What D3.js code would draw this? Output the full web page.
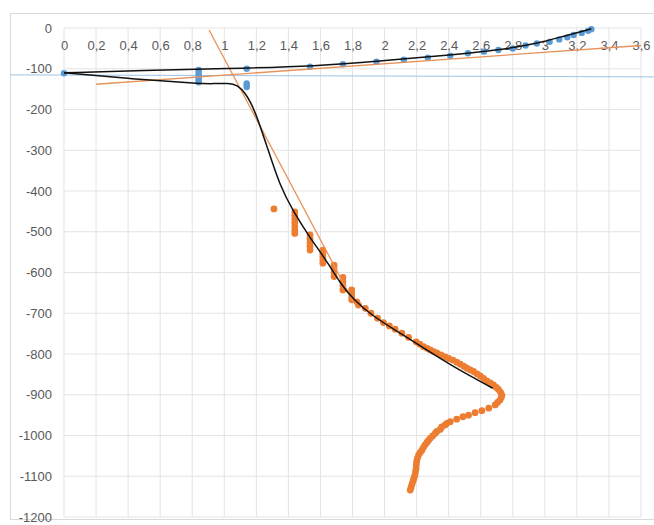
<!DOCTYPE html>
<html>
<head>
<meta charset="utf-8">
<script src="https://cdn.jsdelivr.net/npm/d3@7"></script>
<style>
  html, body { margin: 0; padding: 0; background: #fff; }
  svg { display: block; }
  text { font-family: "Liberation Sans", "Open Sans", sans-serif; }
</style>
</head>
<body>
<svg id="chart" width="654" height="525"></svg>
<script>
// ---------- data ----------
const xTicks = [0, 0.2, 0.4, 0.6, 0.8, 1, 1.2, 1.4, 1.6, 1.8, 2, 2.2, 2.4, 2.6, 2.8, 3, 3.2, 3.4, 3.6];
const yTicks = [0, -100, -200, -300, -400, -500, -600, -700, -800, -900, -1000, -1100, -1200];

const blueX = [0, 0.84, 0.84, 0.84, 0.84, 0.84, 0.84, 0.84, 1.14, 1.14, 1.14, 1.14,
  1.535, 1.74, 1.95, 2.12, 2.27, 2.41, 2.52, 2.62, 2.71, 2.80, 2.88, 2.95, 3.03, 3.09, 3.14, 3.18, 3.23, 3.27, 3.29];
const blueY = [-111, -103, -108, -113, -118, -123, -128, -133, -100, -136, -140, -145,
  -95, -89, -83, -78, -73, -68, -62, -58, -54, -50, -43, -38, -34, -28, -23, -17, -12, -7, -3];

const orangeX = [1.31,
  1.44, 1.44, 1.44, 1.44, 1.44, 1.44, 1.44,
  1.535, 1.535, 1.535, 1.535, 1.535,
  1.615, 1.615, 1.615, 1.615, 1.615,
  1.685, 1.685, 1.685, 1.685,
  1.74, 1.74, 1.74, 1.74,
  1.795, 1.795, 1.795, 1.795,
  1.827, 1.837, 1.88, 1.915, 1.956, 1.993, 2.03, 2.066, 2.108, 2.15, 2.197, 2.22, 2.243, 2.265, 2.285,
  2.306, 2.326, 2.352, 2.378, 2.40, 2.426, 2.45, 2.472, 2.494, 2.514, 2.535, 2.555, 2.577, 2.597, 2.618,
  2.638, 2.66, 2.68, 2.697, 2.711, 2.724, 2.732, 2.728, 2.72, 2.705, 2.69, 2.65, 2.607, 2.565, 2.524,
  2.489, 2.45, 2.41, 2.389, 2.378, 2.357, 2.347, 2.326, 2.316, 2.30, 2.285, 2.274, 2.264, 2.253,
  2.243, 2.233, 2.222, 2.212, 2.205, 2.20, 2.198, 2.197, 2.193, 2.19, 2.185, 2.18, 2.175, 2.17, 2.165, 2.16];
const orangeY = [-444,
  -451, -460, -469, -478, -487, -496, -504,
  -508, -517, -527, -536, -545,
  -545, -553, -561, -569, -577,
  -582, -591, -600, -610,
  -612, -622, -632, -643,
  -643, -651, -659, -667,
  -672, -680, -688, -700, -712, -723, -731, -739, -749, -759, -770, -776, -782, -786, -790,
  -794, -797, -802, -807, -811, -815, -820, -825, -830, -835, -839, -843, -849, -854, -860,
  -866, -871, -876, -882, -887, -894, -901, -907, -913, -919, -925, -933, -939, -944, -950,
  -954, -960, -966, -970, -974, -979, -985, -990, -995, -1001, -1007, -1012, -1017, -1023,
  -1029, -1036, -1042, -1048, -1056, -1064, -1072, -1081, -1089, -1097, -1103, -1109, -1115, -1121, -1128, -1134];

// Trend lines
const blackLowerX = [0, 0.43, 0.83, 0.93, 1.03, 1.08, 1.13, 1.19, 1.27, 1.345, 1.43, 1.535, 1.64, 1.723, 1.806, 1.93, 2.097, 2.264, 2.41, 2.675];
const blackLowerY = [-110, -125, -136, -137, -135, -140, -158, -200, -295, -385, -450, -515, -572, -626, -667, -708, -749, -790, -827, -884];
const blackUpperX = [0, 0.5, 1.0, 1.6, 1.95, 2.41, 2.72, 2.95, 3.1, 3.29];
const blackUpperY = [-110, -104, -100, -93, -82, -66, -54, -38, -22, -2];
const orangeFlatX = [0.2, 3.6];
const orangeFlatY = [-138, -43];
const orangeSteepX = [0.905, 1.80];
const orangeSteepY = [-5, -668];
const refLineY = [-115, -120];

// ---------- chart ----------
const svg = d3.select("#chart");
const x = d3.scaleLinear().domain([0, 3.6]).range([64, 641]);
const y = d3.scaleLinear().domain([0, -1200]).range([28, 517]);

// frame
svg.append("rect").attr("x", 10.5).attr("y", 13.5).attr("width", 660).attr("height", 506)
  .attr("fill", "none").attr("stroke", "#d9d9d9");

// gridlines
svg.append("g").selectAll("line").data(xTicks).join("line")
  .attr("x1", d => x(d)).attr("x2", d => x(d))
  .attr("y1", y(0)).attr("y2", y(-1200))
  .attr("stroke", "#e3e3e3").attr("stroke-width", 1);
svg.append("g").selectAll("line").data(yTicks).join("line")
  .attr("x1", x(0)).attr("x2", x(3.6))
  .attr("y1", d => y(d)).attr("y2", d => y(d))
  .attr("stroke", "#e3e3e3").attr("stroke-width", 1);

// axes labels
const fmtX = d => String(+d.toFixed(1)).replace(".", ",");
const xAxis = d3.axisTop(x).tickValues(xTicks).tickFormat(fmtX).tickSize(0).tickPadding(0);
const gx = svg.append("g").attr("transform", `translate(0,${y(0) + 22})`).call(xAxis);
gx.select(".domain").remove();
gx.selectAll("text").attr("fill", "#595959").attr("font-size", 13)
  .attr("dy", "0").attr("font-family", "Liberation Sans, sans-serif");

const yAxis = d3.axisLeft(y).tickValues(yTicks).tickFormat(d => String(d)).tickSize(0).tickPadding(0);
const gy = svg.append("g").attr("transform", `translate(52,0)`).call(yAxis);
gy.select(".domain").remove();
gy.selectAll("text").attr("fill", "#595959").attr("font-size", 13)
  .attr("font-family", "Liberation Sans, sans-serif");

// light blue reference line
svg.append("line")
  .attr("x1", 10).attr("x2", 654)
  .attr("y1", y(refLineY[0])).attr("y2", y(refLineY[1]))
  .attr("stroke", "#9dc3e6").attr("stroke-width", 1);

// points
const blue = blueX.map((v, i) => [v, blueY[i]]);
const orange = orangeX.map((v, i) => [v, orangeY[i]]);

svg.append("g").selectAll("circle").data(orange).join("circle")
  .attr("cx", d => x(d[0])).attr("cy", d => y(d[1])).attr("r", 3.4)
  .attr("fill", "#ed7d31");
svg.append("g").selectAll("circle").data(blue).join("circle")
  .attr("cx", d => x(d[0])).attr("cy", d => y(d[1])).attr("r", 3.2)
  .attr("fill", "#5b9bd5");

// trend lines
const line = d3.line().x(d => x(d[0])).y(d => y(d[1])).curve(d3.curveBasis);
const straight = d3.line().x(d => x(d[0])).y(d => y(d[1]));

svg.append("path").datum(orangeFlatX.map((v, i) => [v, orangeFlatY[i]]))
  .attr("d", straight).attr("fill", "none").attr("stroke", "#e8925a").attr("stroke-width", 1.3);
svg.append("path").datum(orangeSteepX.map((v, i) => [v, orangeSteepY[i]]))
  .attr("d", straight).attr("fill", "none").attr("stroke", "#e8925a").attr("stroke-width", 1.3);
svg.append("path").datum(blackUpperX.map((v, i) => [v, blackUpperY[i]]))
  .attr("d", line).attr("fill", "none").attr("stroke", "#111").attr("stroke-width", 1.5);
svg.append("path").datum(blackLowerX.map((v, i) => [v, blackLowerY[i]]))
  .attr("d", line).attr("fill", "none").attr("stroke", "#111").attr("stroke-width", 1.5);
</script>
</body>
</html>
